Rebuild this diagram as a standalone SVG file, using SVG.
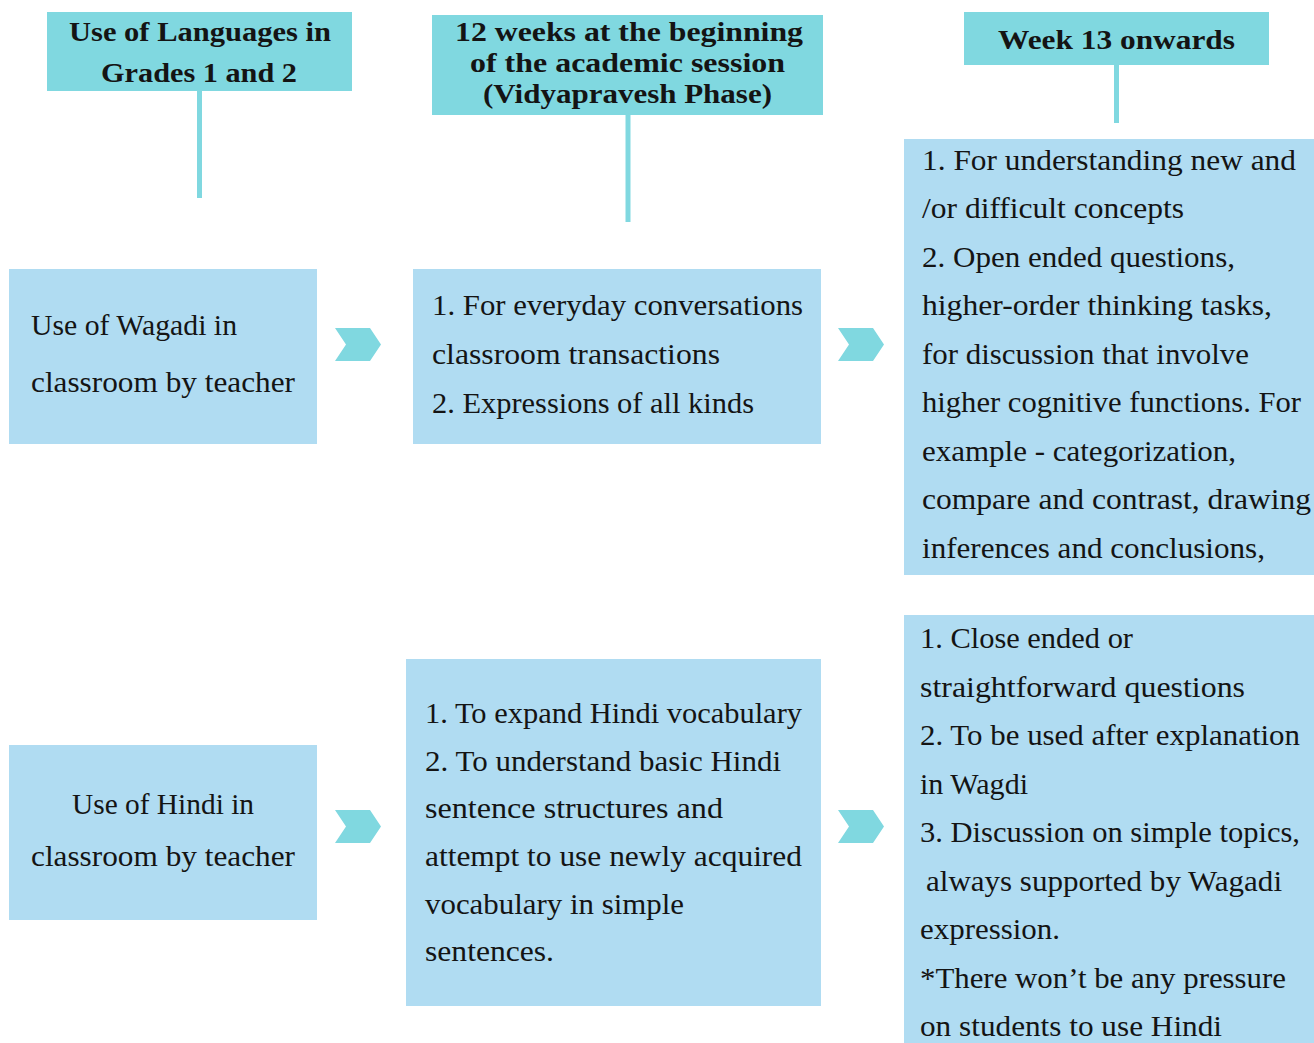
<svg xmlns="http://www.w3.org/2000/svg" width="1314" height="1043" viewBox="0 0 1314 1043">
  <style>
    .hdr { fill: #80d8e0; }
    .box { fill: #b0dcf2; }
    .stem { stroke: #80d8e0; stroke-width: 5; fill: none; }
    .chev { fill: #80d8e0; }
    text { font-family: "Liberation Serif", "DejaVu Serif", serif; fill: #141414; }
    .h { font-size: 28px; font-weight: bold; }
    .b { font-size: 29px; }
  </style>
  <defs>
    <polygon id="chevron" points="0,0 35,0 46,16.5 35,33 0,33 11,16.5"/>
  </defs>
  <rect width="1314" height="1043" fill="#ffffff"/>

  <!-- connectors: header stems and chevrons between columns -->
  <g id="connectors">
    <line class="stem" x1="199.5" y1="90" x2="199.5" y2="198"/>
    <line class="stem" x1="628" y1="114" x2="628" y2="222"/>
    <line class="stem" x1="1116.5" y1="64" x2="1116.5" y2="123"/>
    <use href="#chevron" class="chev" x="335" y="328"/>
    <use href="#chevron" class="chev" x="838" y="328"/>
    <use href="#chevron" class="chev" x="335" y="810"/>
    <use href="#chevron" class="chev" x="838" y="810"/>
  </g>

  <g id="header-grades">
    <rect class="hdr" x="47" y="12" width="305" height="79"/>
    <text class="h" x="69" y="41" textLength="262" lengthAdjust="spacingAndGlyphs">Use of Languages in</text>
    <text class="h" x="101" y="82" textLength="196" lengthAdjust="spacingAndGlyphs">Grades 1 and 2</text>
  </g>

  <g id="header-weeks12">
    <rect class="hdr" x="432" y="15" width="391" height="100"/>
    <text class="h" x="455" y="41" textLength="348" lengthAdjust="spacingAndGlyphs">12 weeks at the beginning</text>
    <text class="h" x="470" y="72" textLength="315" lengthAdjust="spacingAndGlyphs">of the academic session</text>
    <text class="h" x="483" y="103" textLength="289" lengthAdjust="spacingAndGlyphs">(Vidyapravesh Phase)</text>
  </g>

  <g id="header-week13">
    <rect class="hdr" x="964" y="12" width="305" height="53"/>
    <text class="h" x="998" y="49" textLength="237" lengthAdjust="spacingAndGlyphs">Week 13 onwards</text>
  </g>

  <g id="wagadi-teacher">
    <rect class="box" x="9" y="269" width="308" height="175"/>
    <text class="b" x="31" y="335" textLength="206" lengthAdjust="spacingAndGlyphs">Use of Wagadi in</text>
    <text class="b" x="31" y="392" textLength="264" lengthAdjust="spacingAndGlyphs">classroom by teacher</text>
  </g>

  <g id="wagadi-first-weeks">
    <rect class="box" x="413" y="269" width="408" height="175"/>
    <text class="b" x="432" y="315" textLength="371" lengthAdjust="spacingAndGlyphs">1. For everyday conversations</text>
    <text class="b" x="432" y="364" textLength="288" lengthAdjust="spacingAndGlyphs">classroom transactions</text>
    <text class="b" x="432" y="413" textLength="322" lengthAdjust="spacingAndGlyphs">2. Expressions of all kinds</text>
  </g>

  <g id="wagadi-later">
    <rect class="box" x="904" y="139" width="410" height="436"/>
    <text class="b" x="922" y="170" textLength="374" lengthAdjust="spacingAndGlyphs">1. For understanding new and</text>
    <text class="b" x="922" y="218" textLength="262" lengthAdjust="spacingAndGlyphs">/or difficult concepts</text>
    <text class="b" x="922" y="267" textLength="313" lengthAdjust="spacingAndGlyphs">2. Open ended questions,</text>
    <text class="b" x="922" y="315" textLength="350" lengthAdjust="spacingAndGlyphs">higher-order thinking tasks,</text>
    <text class="b" x="922" y="364" textLength="327" lengthAdjust="spacingAndGlyphs">for discussion that involve</text>
    <text class="b" x="922" y="412" textLength="379" lengthAdjust="spacingAndGlyphs">higher cognitive functions. For</text>
    <text class="b" x="922" y="461" textLength="314" lengthAdjust="spacingAndGlyphs">example - categorization,</text>
    <text class="b" x="922" y="509" textLength="389" lengthAdjust="spacingAndGlyphs">compare and contrast, drawing</text>
    <text class="b" x="922" y="558" textLength="343" lengthAdjust="spacingAndGlyphs">inferences and conclusions,</text>
  </g>

  <g id="hindi-teacher">
    <rect class="box" x="9" y="745" width="308" height="175"/>
    <text class="b" x="72" y="814" textLength="182" lengthAdjust="spacingAndGlyphs">Use of Hindi in</text>
    <text class="b" x="31" y="866" textLength="264" lengthAdjust="spacingAndGlyphs">classroom by teacher</text>
  </g>

  <g id="hindi-first-weeks">
    <rect class="box" x="406" y="659" width="415" height="347"/>
    <text class="b" x="425" y="723" textLength="377" lengthAdjust="spacingAndGlyphs">1. To expand Hindi vocabulary</text>
    <text class="b" x="425" y="771" textLength="356" lengthAdjust="spacingAndGlyphs">2. To understand basic Hindi</text>
    <text class="b" x="425" y="818" textLength="298" lengthAdjust="spacingAndGlyphs">sentence structures and</text>
    <text class="b" x="425" y="866" textLength="377" lengthAdjust="spacingAndGlyphs">attempt to use newly acquired</text>
    <text class="b" x="425" y="914" textLength="259" lengthAdjust="spacingAndGlyphs">vocabulary in simple</text>
    <text class="b" x="425" y="961" textLength="129" lengthAdjust="spacingAndGlyphs">sentences.</text>
  </g>

  <g id="hindi-later">
    <rect class="box" x="904" y="615" width="410" height="428"/>
    <text class="b" x="920" y="648" textLength="213" lengthAdjust="spacingAndGlyphs">1. Close ended or</text>
    <text class="b" x="920" y="697" textLength="325" lengthAdjust="spacingAndGlyphs">straightforward questions</text>
    <text class="b" x="920" y="745" textLength="380" lengthAdjust="spacingAndGlyphs">2. To be used after explanation</text>
    <text class="b" x="920" y="794" textLength="108" lengthAdjust="spacingAndGlyphs">in Wagdi</text>
    <text class="b" x="920" y="842" textLength="380" lengthAdjust="spacingAndGlyphs">3. Discussion on simple topics,</text>
    <text class="b" x="926" y="891" textLength="356" lengthAdjust="spacingAndGlyphs">always supported by Wagadi</text>
    <text class="b" x="920" y="939" textLength="140" lengthAdjust="spacingAndGlyphs">expression.</text>
    <text class="b" x="920" y="988" textLength="366" lengthAdjust="spacingAndGlyphs">*There won’t be any pressure</text>
    <text class="b" x="920" y="1036" textLength="302" lengthAdjust="spacingAndGlyphs">on students to use Hindi</text>
  </g>
</svg>
